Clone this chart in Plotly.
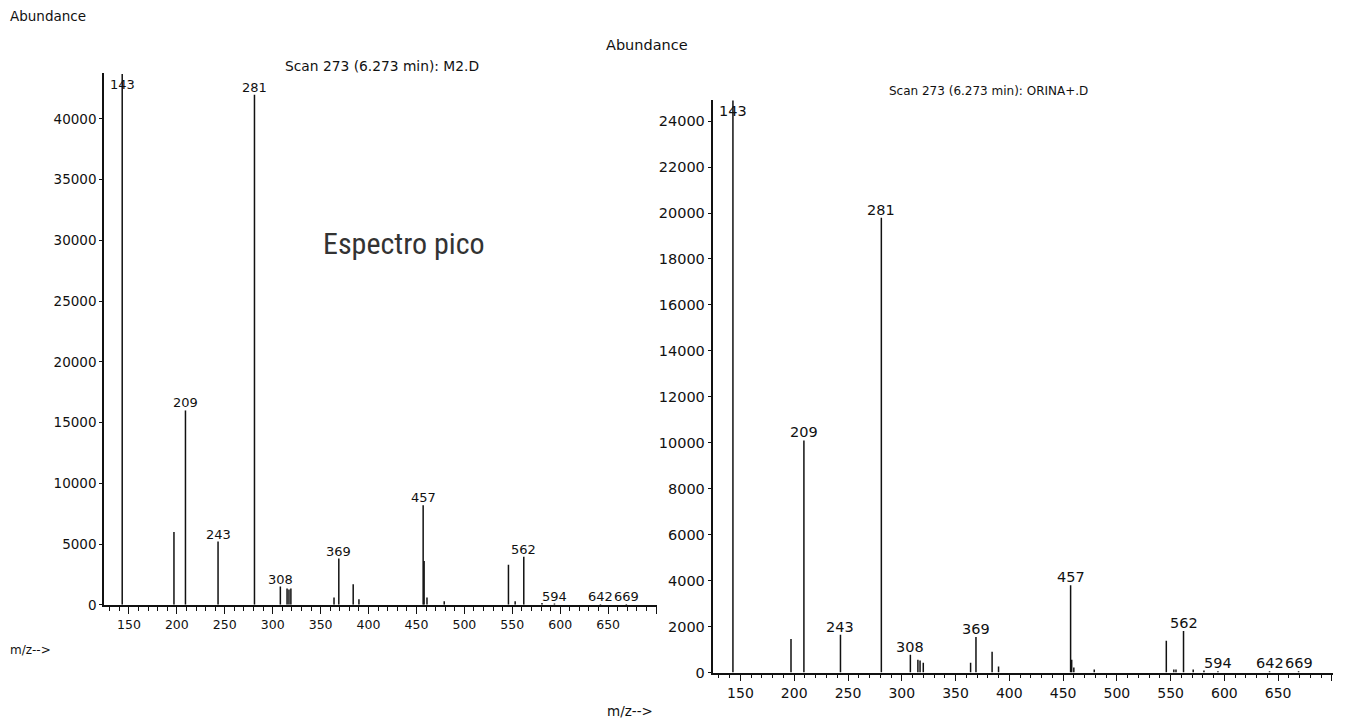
import plotly.graph_objects as go

# ---- Scan 273 (6.273 min): M2.D ----
m2_mz = [143, 197, 209, 243, 281, 308, 315, 317, 319, 364, 369, 384, 390,
         457, 458, 461, 479, 546, 553, 562, 581, 594, 642, 669]
m2_abund = [43700, 6000, 16000, 5200, 42000, 1500, 1340, 1250, 1340, 600, 3800, 1700, 450,
            8200, 3600, 600, 300, 3300, 300, 3950, 150, 100, 60, 60]
m2_labels = [143, 209, 243, 281, 308, 369, 457, 562, 594, 642, 669]

# ---- Scan 273 (6.273 min): ORINA+.D ----
orina_mz = [143, 197, 209, 243, 281, 308, 315, 317, 320, 364, 369, 384, 390,
            457, 458, 460, 479, 546, 553, 555, 562, 571, 581, 594, 642, 669]
orina_abund = [24900, 1460, 10100, 1640, 19800, 775, 560, 520, 430, 430, 1550, 900, 260,
               3800, 560, 215, 130, 1380, 130, 130, 1810, 130, 90, 60, 60, 60]
orina_labels = [143, 209, 243, 281, 308, 369, 457, 562, 594, 642, 669]

x_ticks = [150, 200, 250, 300, 350, 400, 450, 500, 550, 600, 650, 700]
x_ticktext = ["150", "200", "250", "300", "350", "400", "450", "500", "550", "600", "650", ""]
MZ_RANGE = [124, 701]

W, H = 1345, 727
FONT = "DejaVu Sans, Verdana, sans-serif"
INK = "#111111"


def px_x(p):
    return p / W


def px_y(p):
    return 1 - p / H


def sticks(mz, ab):
    xs, ys = [], []
    for m, a in zip(mz, ab):
        xs += [m, m, None]
        ys += [0, a, None]
    return xs, ys


fig = go.Figure()

panels = [
    dict(mz=m2_mz, ab=m2_abund, labels=m2_labels, xa="x", ya="y",
         xdom=[px_x(104), px_x(657)], ydom=[px_y(611.5), px_y(74)],
         ytop=43770, ydtick=5000, yfs=13.5, xfs=12.5, lfs=13),
    dict(mz=orina_mz, ab=orina_abund, labels=orina_labels, xa="x2", ya="y2",
         xdom=[px_x(712.5), px_x(1333)], ydom=[px_y(680), px_y(101)],
         ytop=24925, ydtick=2000, yfs=14.5, xfs=14, lfs=14.5),
]

annotations = []
for i, p in enumerate(panels):
    xs, ys = sticks(p["mz"], p["ab"])
    fig.add_trace(go.Scatter(x=xs, y=ys, mode="lines", xaxis=p["xa"], yaxis=p["ya"],
                             line=dict(color=INK, width=1.5), hoverinfo="skip",
                             showlegend=False))
    suffix = "" if i == 0 else "2"
    fig.layout["xaxis" + suffix] = dict(
        domain=p["xdom"], range=MZ_RANGE, anchor="y" + suffix,
        showline=True, linecolor=INK, linewidth=1.5, mirror=False,
        showgrid=False, zeroline=False,
        tickmode="array", tickvals=x_ticks, ticktext=x_ticktext,
        ticks="outside", ticklen=7, tickwidth=1.3, tickcolor=INK,
        minor=dict(dtick=10, tick0=0, ticks="outside", ticklen=4,
                   tickwidth=1.3, tickcolor=INK, showgrid=False),
        tickfont=dict(family=FONT, size=p["xfs"], color=INK),
    )
    fig.layout["yaxis" + suffix] = dict(
        domain=p["ydom"], range=[0, p["ytop"]], anchor="x" + suffix,
        showline=True, linecolor=INK, linewidth=1.5,
        showgrid=False, zeroline=False,
        tick0=0, dtick=p["ydtick"], tickformat="d",
        ticks="outside", ticklen=3, tickwidth=1.2, tickcolor=INK,
        tickfont=dict(family=FONT, size=p["yfs"], color=INK),
    )
    lookup = dict(zip(p["mz"], p["ab"]))
    for m in p["labels"]:
        a = lookup[m]
        top_peak = a >= 0.99 * p["ytop"]
        annotations.append(dict(
            x=m, y=a, xref=p["xa"], yref=p["ya"], text=str(m), showarrow=False,
            xanchor="center", yanchor="top" if top_peak else "bottom",
            yshift=-2 if top_peak else -1, borderpad=0,
            font=dict(family=FONT, size=p["lfs"], color=INK)))

# Free text around the two spectra
free_text = [
    ("Abundance", 9, 16, 13.5, "left"),
    ("Scan 273 (6.273 min): M2.D", 382, 67, 13.8, "center"),
    ("m/z-->", 9, 657, 12, "left"),
    ("Abundance", 605, 45, 14.5, "left"),
    ("Scan 273 (6.273 min): ORINA+.D", 988, 92, 12, "center"),
    ("m/z-->", 606, 719, 13.5, "left"),
]
for txt, x, y, size, anchor in free_text:
    annotations.append(dict(
        x=px_x(x), y=px_y(y), xref="paper", yref="paper", text=txt, showarrow=False,
        xanchor=anchor, yanchor="middle", borderpad=0,
        font=dict(family=FONT, size=size, color=INK)))

annotations.append(dict(
    x=px_x(404), y=px_y(246), xref="paper", yref="paper", text="Espectro pico",
    showarrow=False, xanchor="center", yanchor="middle", borderpad=0,
    font=dict(family="Liberation Sans Narrow, Roboto Condensed, Open Sans, sans-serif",
              size=30, color="#333333")))

fig.update_layout(
    width=W, height=H, margin=dict(l=0, r=0, t=0, b=0),
    paper_bgcolor="white", plot_bgcolor="white",
    annotations=annotations, showlegend=False,
)

fig.write_html("out.html")
